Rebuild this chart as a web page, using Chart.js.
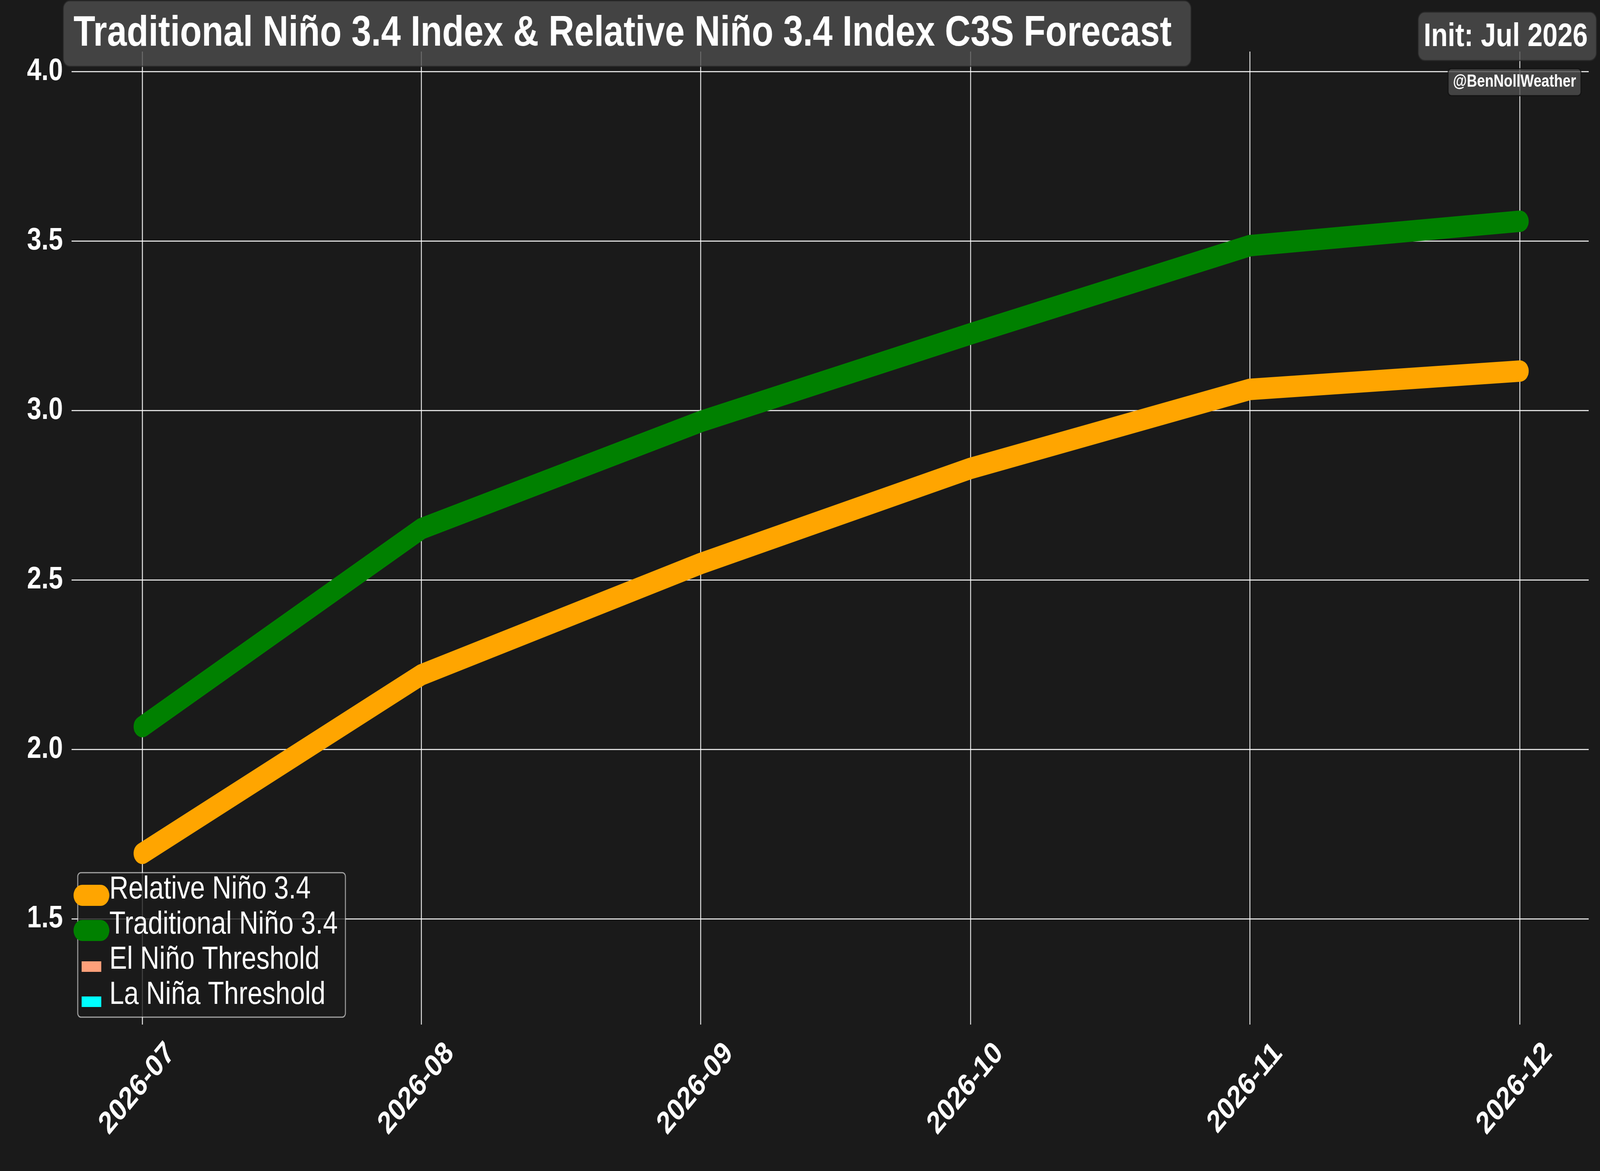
<!DOCTYPE html>
<html lang="en">
<head>
<meta charset="UTF-8">
<title>Niño 3.4 C3S Forecast</title>
<style>
    html, body {
        margin: 0;
        padding: 0;
        width: 100%;
        height: 100%;
        background-color: #1a1a1a;
        overflow: hidden;
    }
    #wrap {
        width: 4961px;
        height: 2999px;
        transform-origin: 0 0;
    }
    canvas {
        display: block;
        width: 4961px;
        height: 2999px;
    }
</style>
<script src="https://cdn.jsdelivr.net/npm/chart.js@4.4.1/dist/chart.umd.min.js"></script>
</head>
<body>
<div id="wrap">
    <canvas id="ninoChart" width="4961" height="2999"></canvas>
</div>
<script>
    const months = ['2026-07', '2026-08', '2026-09', '2026-10', '2026-11', '2026-12'];
    const relativeNino34 = [1.693, 2.220, 2.548, 2.829, 3.062, 3.116];
    const traditionalNino34 = [2.067, 2.651, 2.967, 3.226, 3.486, 3.558];
    const yTicks = [1.5, 2.0, 2.5, 3.0, 3.5, 4.0];
    const elNinoThreshold = 0.5;
    const laNinaThreshold = -0.5;

    const titleText = 'Traditional Niño 3.4 Index & Relative Niño 3.4 Index C3S Forecast';
    const initText = 'Init: Jul 2026';
    const creditText = '@BenNollWeather';

    const fontFamily = '"Liberation Sans", Arial, sans-serif';

    // the figure is drawn at 4961x2999 and squeezed into whatever window we get
    document.getElementById('wrap').style.transform =
        'scale(' + (window.innerWidth / 4961) + ',' + (window.innerHeight / 2999) + ')';

    // days since the first month, so months are spaced like on a date axis
    const startDate = Date.UTC(2026, 6, 1);
    function dayOffset(label) {
        const [y, m] = label.split('-').map(Number);
        return (Date.UTC(y, m - 1, 1) - startDate) / 86400000;
    }
    const monthDays = months.map(dayOffset);

    function toPoints(values) {
        return monthDays.map((d, i) => ({ x: d, y: values[i] }));
    }

    function roundBox(ctx, x, y, w, h, r, fill, stroke) {
        ctx.beginPath();
        ctx.roundRect(x, y, w, h, r);
        ctx.fillStyle = fill;
        ctx.fill();
        if (stroke) {
            ctx.lineWidth = 3;
            ctx.strokeStyle = stroke;
            ctx.stroke();
        }
    }

    const background = {
        id: 'background',
        beforeDraw(chart) {
            const ctx = chart.ctx;
            ctx.save();
            ctx.fillStyle = '#1a1a1a';
            ctx.fillRect(0, 0, chart.width, chart.height);
            ctx.restore();
        }
    };

    // legend box in the lower left corner of the plot
    const boxLegend = {
        id: 'boxLegend',
        afterDraw(chart) {
            const ctx = chart.ctx;
            const area = chart.chartArea;
            const w = 830, h = 370;
            const x = area.left + 13;
            const y = area.bottom - 13 - h;
            ctx.save();
            roundBox(ctx, x, y, w, h, 10, 'rgba(26,26,26,0.8)', 'rgba(255,255,255,0.6)');
            ctx.font = '82px ' + fontFamily;
            ctx.textBaseline = 'middle';
            ctx.textAlign = 'left';
            chart.data.datasets.forEach((ds, i) => {
                const cy = y + 43 + i * 90;
                if (ds.legendPatch) {
                    ctx.fillStyle = ds.borderColor;
                    ctx.fillRect(x + 12, cy + 4, 61, 27);
                } else {
                    ctx.beginPath();
                    ctx.moveTo(x + 14, cy + 15);
                    ctx.lineTo(x + 71, cy + 15);
                    ctx.lineWidth = 54;
                    ctx.lineCap = 'round';
                    ctx.strokeStyle = ds.borderColor;
                    ctx.stroke();
                }
                ctx.fillStyle = 'white';
                ctx.fillText(ds.label, x + 98, cy);
            });
            ctx.restore();
        }
    };

    // title, init date and credit labels in grey boxes
    const headerBoxes = {
        id: 'headerBoxes',
        afterDraw(chart) {
            const ctx = chart.ctx;
            ctx.save();
            ctx.textBaseline = 'alphabetic';

            roundBox(ctx, 196, 2, 3497, 168, 20, 'rgba(78,78,78,0.8)', 'rgba(40,40,40,0.8)');
            ctx.font = 'bold 110px ' + fontFamily;
            ctx.fillStyle = 'white';
            ctx.textAlign = 'left';
            ctx.fillText(titleText, 228, 117);

            roundBox(ctx, 4397, 31, 553, 124, 20, 'rgba(78,78,78,0.8)', 'rgba(40,40,40,0.8)');
            ctx.font = 'bold 84px ' + fontFamily;
            ctx.fillStyle = 'white';
            ctx.textAlign = 'right';
            ctx.fillText(initText, 4923, 118);

            roundBox(ctx, 4490, 176, 412, 69, 10, 'rgba(78,78,78,0.8)', 'rgba(15,15,15,0.8)');
            ctx.font = 'bold 44px ' + fontFamily;
            ctx.fillStyle = 'white';
            ctx.textAlign = 'center';
            ctx.fillText(creditText, 4696, 222);
            ctx.restore();
        }
    };

    const gridColor = 'rgba(255,255,255,0.85)';
    const tickFont = { family: fontFamily, size: 80, weight: 'bold' };

    new Chart(document.getElementById('ninoChart'), {
        type: 'line',
        data: {
            datasets: [
                {
                    label: 'Relative Niño 3.4',
                    data: toPoints(relativeNino34),
                    borderColor: 'orange',
                    backgroundColor: 'orange',
                    borderWidth: 55
                },
                {
                    label: 'Traditional Niño 3.4',
                    data: toPoints(traditionalNino34),
                    borderColor: 'green',
                    backgroundColor: 'green',
                    borderWidth: 55
                },
                {
                    label: 'El Niño Threshold',
                    data: monthDays.map(d => ({ x: d, y: elNinoThreshold })),
                    borderColor: 'lightsalmon',
                    borderWidth: 3,
                    legendPatch: true
                },
                {
                    label: 'La Niña Threshold',
                    data: monthDays.map(d => ({ x: d, y: laNinaThreshold })),
                    borderColor: 'cyan',
                    borderWidth: 3,
                    legendPatch: true
                }
            ]
        },
        options: {
            responsive: false,
            animation: false,
            devicePixelRatio: 1,
            layout: {
                padding: { top: 132, right: 35, left: 0, bottom: 0 }
            },
            elements: {
                point: { radius: 0 },
                line: {
                    tension: 0,
                    fill: false,
                    borderCapStyle: 'round',
                    borderJoinStyle: 'round'
                }
            },
            plugins: {
                legend: { display: false },
                title: { display: false },
                tooltip: { enabled: false }
            },
            scales: {
                x: {
                    type: 'linear',
                    min: -7.65,
                    max: 160.65,
                    border: { display: false },
                    grid: {
                        color: gridColor,
                        lineWidth: 3,
                        tickLength: 6
                    },
                    ticks: {
                        color: 'white',
                        font: tickFont,
                        minRotation: 45,
                        maxRotation: 45,
                        padding: 27,
                        labelOffset: 88,
                        autoSkip: false,
                        callback: v => {
                            const i = monthDays.indexOf(v);
                            return i >= 0 ? months[i] : '';
                        }
                    },
                    afterBuildTicks: scale => {
                        scale.ticks = monthDays.map(v => ({ value: v }));
                    },
                    afterFit: scale => {
                        scale.height = 381;
                    }
                },
                y: {
                    min: 1.1947,
                    max: 4.0588,
                    border: { display: false },
                    grid: {
                        color: gridColor,
                        lineWidth: 3,
                        tickLength: 6
                    },
                    ticks: {
                        color: 'white',
                        font: tickFont,
                        padding: 27,
                        autoSkip: false,
                        callback: v => v.toFixed(1)
                    },
                    afterBuildTicks: scale => {
                        scale.ticks = yTicks.map(v => ({ value: v }));
                    },
                    afterFit: scale => {
                        scale.width = 228;
                    }
                }
            }
        },
        plugins: [background, boxLegend, headerBoxes]
    });
</script>
</body>
</html>
